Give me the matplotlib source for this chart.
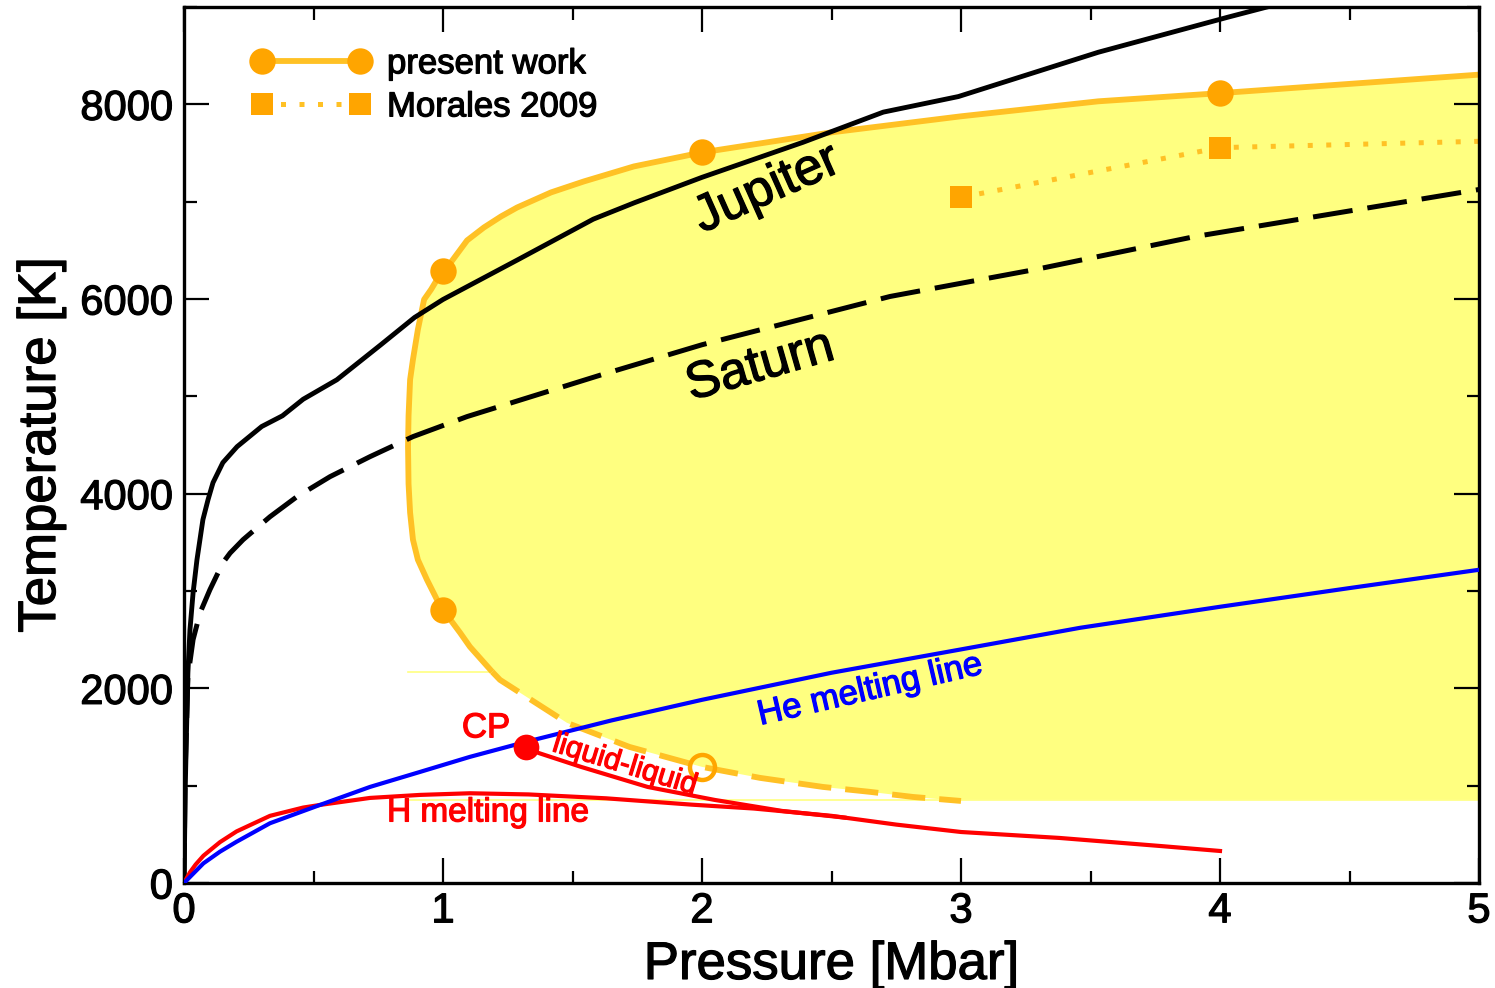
import numpy as np
import matplotlib
matplotlib.use("Agg")
import matplotlib.pyplot as plt
import matplotlib.patheffects as pe
from matplotlib.lines import Line2D
from matplotlib.ticker import MultipleLocator

plt.rcParams['font.family'] = ['Liberation Sans', 'DejaVu Sans']

# --- planetary isentropes ---
jup_P = [0, 0.005, 0.01, 0.015, 0.023, 0.035, 0.05, 0.073, 0.093, 0.112, 0.15, 0.205,
         0.3, 0.38, 0.46, 0.59, 0.76, 0.89, 1.0, 1.29, 1.58, 1.74, 2.0, 2.39, 2.70,
         2.99, 3.53, 4.03, 4.21]
jup_T = [0, 1000, 1600, 2160, 2600, 2980, 3320, 3733, 3940, 4113, 4319, 4483,
         4690, 4800, 4970, 5170, 5530, 5810, 5995, 6405, 6820, 6990, 7250, 7610, 7920,
         8080, 8535, 8895, 9020]

sat_P = [0, 0.004, 0.015, 0.035, 0.062, 0.1, 0.15, 0.178, 0.228, 0.282, 0.332, 0.436,
         0.564, 0.718, 0.884, 1.093, 1.61, 2.0, 2.726, 3.3, 3.9, 5.0]
sat_T = [0, 1100, 2118, 2500, 2776, 3013, 3290, 3390, 3527, 3650, 3763, 3969,
         4175, 4380, 4586, 4792, 5220, 5530, 6026, 6310, 6640, 7125]

# --- demixing region boundary (present work) ---
# solid branch, running from high pressure round the left edge
dem_P = [5.0, 4.5, 4.0, 3.53, 3.0, 2.5, 2.0, 1.737, 1.544, 1.417, 1.286, 1.224,
         1.158, 1.093, 1.03, 1.0, 0.977, 0.954, 0.927, 0.903, 0.884, 0.873, 0.867,
         0.865, 0.867, 0.873, 0.884, 0.903, 0.938, 0.977, 1.0, 1.066, 1.104, 1.19]
dem_T = [8305, 8210, 8115, 8031, 7877, 7712, 7506, 7362, 7208, 7095, 6940, 6848,
         6735, 6602, 6375, 6283, 6200, 6098, 5995, 5686, 5378, 5172, 4800,
         4483, 4100, 3805, 3527, 3321, 3116, 2910, 2807, 2571, 2427, 2170]
# extrapolated low-temperature branch (dashed)
ext_P = [1.19, 1.22, 1.479, 1.72, 2.0, 2.224, 2.467, 2.65, 2.815, 3.0]
ext_T = [2170, 2087, 1645, 1398, 1193, 1080, 987, 936, 884, 843]
fill_floor = 855

pw_P = [1, 2, 4, 1]
pw_T = [6283, 7506, 8115, 2800]
pw_open_P = [2]
pw_open_T = [1193]

# --- Morales et al. 2009 ---
mor_P = [3, 4, 5]
mor_T = [7045, 7555, 7620]

# --- melting lines ---
he_P = [0, 0.075, 0.139, 0.203, 0.332, 0.525, 0.718, 0.911, 1.104, 1.32, 1.65,
        2.0, 2.5, 3.0, 3.46, 4.0, 4.5, 5.0]
he_T = [0, 202, 322, 424, 614, 802, 987, 1141, 1296, 1450, 1670,
        1882, 2160, 2400, 2622, 2838, 3030, 3218]

h_P = [0, 0.023, 0.045, 0.075, 0.1, 0.139, 0.203, 0.332, 0.46, 0.525, 0.718, 0.911,
       1.104, 1.33, 1.63, 1.96, 2.2, 2.5, 2.75, 3.0, 3.38, 3.77, 4.0]
h_T = [0, 110, 190, 280, 335, 420, 530, 690, 775, 802, 874, 905,
       922, 910, 870, 805, 765, 690, 600, 524, 463, 380, 329]

ll_P = [1.32, 1.37, 1.533, 1.79, 2.05, 2.31, 2.55]
ll_T = [1398, 1335, 1193, 987, 853, 740, 672]
cp_P, cp_T = 1.32, 1398

c_edge = '#FFC125'
c_mark = '#FFA500'
c_fill = '#FFFF80'

fig = plt.figure(figsize=(14.95, 9.88), dpi=100)
ax = fig.add_axes([184/1495, 1 - 883/988, (1479 - 184)/1495, (883 - 7)/988])

# shaded demixing region
poly_P = dem_P + ext_P[1:] + [ext_P[-1], 5.0]
poly_T = dem_T + ext_T[1:] + [fill_floor, fill_floor]
ax.fill(poly_P, poly_T, color=c_fill, lw=0, zorder=1)
pmin = min(dem_P)
ax.plot([pmin, dem_P[-1]], [dem_T[-1], dem_T[-1]], color=c_fill, lw=1.2, zorder=1)
ax.plot([pmin, 5.0], [fill_floor, fill_floor], color=c_fill, lw=1.2, zorder=1)

ax.plot(dem_P, dem_T, color=c_edge, lw=4.2, zorder=2, solid_capstyle='butt')
ax.plot(ext_P, ext_T, color=c_edge, lw=4.2, ls=(0, (5.7, 2.4)), zorder=2)
ax.plot(mor_P, mor_T, color=c_edge, lw=3.6, ls=(0, (1, 2.7)), zorder=2)

ax.plot(jup_P, jup_T, color='black', lw=3.5, zorder=3)
ax.plot(sat_P, sat_T, color='black', lw=3.6, ls=(0, (8, 3)), zorder=3)

ax.plot(h_P, h_T, color='red', lw=3.0, zorder=3)
ax.plot(ll_P, ll_T, color='red', lw=3.0, zorder=3)
ax.plot(he_P, he_T, color='blue', lw=3.0, zorder=3)

ax.plot(pw_P, pw_T, 'o', color=c_mark, ms=19, mew=0, zorder=4)
ax.plot(pw_open_P, pw_open_T, 'o', mfc='none', mec=c_mark, ms=18, mew=3.2, zorder=4)
ax.plot(mor_P[:2], mor_T[:2], 's', color=c_mark, ms=16.5, mew=0, zorder=4)
ax.plot([cp_P], [cp_T], 'o', color='red', ms=18.5, mew=0, zorder=4)


def heavy(color):
    # thicken glyph strokes a little
    return [pe.withStroke(linewidth=0.9, foreground=color)]


# labels on the curves
ax.text(2.251, 7126, 'Jupiter', fontsize=37, rotation=24, ha='center', va='center',
        zorder=5, path_effects=heavy('black'))
ax.text(2.224, 5306, 'Saturn', fontsize=37, rotation=16, ha='center', va='center',
        zorder=5, path_effects=heavy('black'))
ax.text(2.649, 1985, 'He melting line', fontsize=25, color='blue', rotation=13,
        ha='center', va='center', zorder=5, path_effects=heavy('blue'))
ax.text(1.174, 720, 'H melting line', fontsize=24, color='red', ha='center', va='center',
        zorder=5, path_effects=heavy('red'))
ax.text(1.166, 1594, 'CP', fontsize=25, color='red', ha='center', va='center',
        zorder=5, path_effects=heavy('red'))
ax.text(1.703, 1213, 'liquid-liquid', fontsize=21.5, color='red', rotation=-17,
        ha='center', va='center', zorder=5, path_effects=heavy('red'))

handles = [
    Line2D([], [], color=c_edge, lw=4.2, marker='o', ms=19, mfc=c_mark, mec=c_mark, mew=0),
    Line2D([], [], color=c_edge, lw=3.6, ls=(0, (1, 2.7)), marker='s', ms=16.5,
           mfc=c_mark, mec=c_mark, mew=0),
]
leg = ax.legend(handles, ['present work', 'Morales 2009'], loc='upper left',
                bbox_to_anchor=(0.0522, 0.954), frameon=False, fontsize=25, numpoints=2,
                handlelength=3.42, handletextpad=0.48, labelspacing=0.29,
                borderpad=0, borderaxespad=0)
for t in leg.get_texts():
    t.set_path_effects(heavy('black'))

ax.set_xlim(0, 5)
ax.set_ylim(0, 9000)
ax.xaxis.set_major_locator(MultipleLocator(1))
ax.xaxis.set_minor_locator(MultipleLocator(0.5))
ax.yaxis.set_major_locator(MultipleLocator(2000))
ax.yaxis.set_minor_locator(MultipleLocator(1000))
ax.tick_params(which='both', direction='in', top=True, right=True, width=1.6)
ax.tick_params(which='major', length=18, labelsize=30)
ax.tick_params(which='minor', length=9)
ax.tick_params(axis='x', pad=6)
ax.tick_params(axis='y', pad=8)
for lab in ax.get_xticklabels() + ax.get_yticklabels():
    lab.set_path_effects(heavy('black'))
for s in ax.spines.values():
    s.set_linewidth(2.4)

ax.set_xlabel('Pressure [Mbar]', fontsize=38, path_effects=heavy('black'))
ax.set_ylabel('Temperature [K]', fontsize=38, path_effects=heavy('black'))
ax.xaxis.set_label_coords(0.5, -0.065)
ax.yaxis.set_label_coords(-0.0911, 0.5)

fig.savefig('out.png', dpi=100)
